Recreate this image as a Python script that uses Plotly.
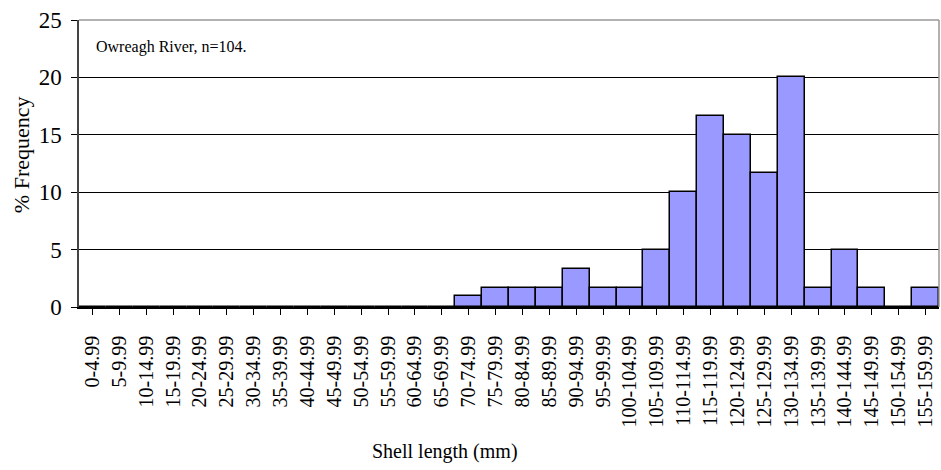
import plotly.graph_objects as go

categories = ["0-4.99", "5-9.99", "10-14.99", "15-19.99", "20-24.99", "25-29.99",
              "30-34.99", "35-39.99", "40-44.99", "45-49.99", "50-54.99", "55-59.99",
              "60-64.99", "65-69.99", "70-74.99", "75-79.99", "80-84.99", "85-89.99",
              "90-94.99", "95-99.99", "100-104.99", "105-109.99", "110-114.99",
              "115-119.99", "120-124.99", "125-129.99", "130-134.99", "135-139.99",
              "140-144.99", "145-149.99", "150-154.99", "155-159.99"]
freq = [0, 0, 0, 0, 0, 0, 0, 0, 0, 0, 0, 0, 0, 0, 1.0, 1.67, 1.67, 1.67, 3.33, 1.67,
        1.67, 5.0, 10.0, 16.67, 15.0, 11.67, 20.0, 1.67, 5.0, 1.67, 0, 1.67]
y_ticks = [0, 5, 10, 15, 20, 25]

FONT = "Liberation Serif"

fig = go.Figure()
fig.add_trace(go.Bar(
    x=categories, y=freq,
    marker=dict(color="#9999FF", line=dict(color="black", width=1.5)),
    width=1.0,
))

fig.update_layout(
    width=941, height=470,
    margin=dict(l=79, r=2, t=20, b=163),
    plot_bgcolor="white", paper_bgcolor="white",
    showlegend=False, bargap=0,
    font=dict(family=FONT, color="black"),
    xaxis=dict(
        type="category", tickangle=-90, tickfont=dict(size=20, family=FONT),
        ticks="outside", ticklen=6, tickcolor="black", tickwidth=1,
        ticklabelstandoff=13,
        showline=True, linecolor="black", linewidth=1.5,
        showgrid=False, range=[-0.5, 31.5],
    ),
    yaxis=dict(
        range=[0, 25], tickvals=y_ticks, tickfont=dict(size=23, family=FONT),
        ticks="outside", ticklen=6, tickcolor="black", ticklabelstandoff=5,
        showline=True, linecolor="#444", linewidth=1.5,
        showgrid=True, gridcolor="black", gridwidth=1, zeroline=False,
    ),
    annotations=[
        dict(text="Owreagh River, n=104.", xref="paper", yref="paper",
             x=0.018, y=0.905, xanchor="left", yanchor="middle", showarrow=False,
             font=dict(size=16, family=FONT)),
        dict(text="Shell length (mm)", xref="paper", yref="paper",
             x=0.426, y=-0.505, xanchor="center", yanchor="middle", showarrow=False,
             font=dict(size=20, family=FONT)),
        dict(text="% Frequency", xref="paper", yref="paper", textangle=-90,
             x=-0.066, y=0.53, xanchor="center", yanchor="middle", showarrow=False,
             font=dict(size=22, family=FONT)),
    ],
    shapes=[
        dict(type="line", xref="paper", yref="paper", x0=0, x1=1, y0=1, y1=1,
             line=dict(color="#999", width=1.5)),
        dict(type="line", xref="paper", yref="paper", x0=1, x1=1, y0=0, y1=1,
             line=dict(color="#999", width=1.5)),
    ],
)

fig.write_html("out.html")
